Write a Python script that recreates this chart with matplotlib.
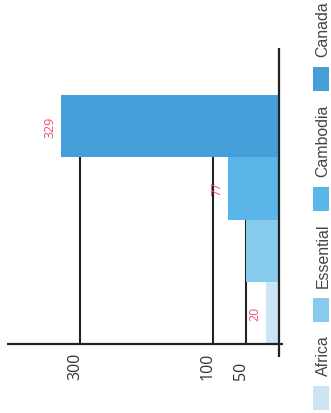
import matplotlib
matplotlib.use("Agg")
import matplotlib.pyplot as plt
import matplotlib.transforms as mtransforms
from matplotlib.patches import Rectangle

# ---- data ----
categories = ["Africa", "Essential", "Cambodia", "Canada"]
values = [20, 50, 77, 329]
value_labels = ["20", None, "77", "329"]
tick_values = [300, 100, 50]
tick_labels = ["300", "100", "50"]
colors = ["#CDE4F5", "#86CAEC", "#5CB5E8", "#469FD8"]

W, H = 331, 414
fig = plt.figure(figsize=(W / 100, H / 100), dpi=100)
ax = fig.add_axes([0, 0, 1, 1])
ax.axis("off")

# pixel mapping: x_px = 279 - 0.6633*v ; y_px(top) = 345 - 62.25*(c+0.5)
sx = 0.6633
x0 = 279.0
sy = 62.25
ax.set_xlim(x0 / sx, (x0 - W) / sx)
ax.set_ylim((345 - H) / sy - 0.5, 345 / sy - 0.5)

idx = list(range(len(categories)))
ink = "#222222"

# grid lines behind bars
ax.vlines(tick_values, -0.5, len(categories) - 0.5, color=ink, lw=1.5, zorder=1)
ax.barh(idx, values, height=1.0, color=colors, zorder=2)

# axis lines
ax.plot([(x0 - 7) / sx, (x0 - 283) / sx], [-0.5, -0.5], color=ink, lw=1.6,
        zorder=3, solid_capstyle="butt")
ax.plot([0, 0], [-0.5 - 13 / sy, 3.5 + 47 / sy], color=ink, lw=1.6, zorder=3,
        solid_capstyle="butt")

num_font = "Open Sans"
for v, lab in zip(tick_values, tick_labels):
    ax.annotate(lab, xy=(v, -0.5), xytext=(-1, -35), textcoords="offset pixels",
                rotation=90, rotation_mode="anchor", ha="left", va="baseline",
                fontsize=11.5, family=num_font, color="#333333")

for i, (v, lab) in enumerate(zip(values, value_labels)):
    if lab is None:
        continue
    ax.annotate(lab, xy=(v, i), xytext=(-4, 0), textcoords="offset pixels",
                rotation=90, ha="right", va="center",
                fontsize=9, family=num_font, color="#EE4F72")

# legend (rotated, flowing bottom-to-top)
ident = mtransforms.IdentityTransform()
renderer = fig.canvas.get_renderer()
y = 411.0
for name, col in zip(categories, colors):
    fig.add_artist(Rectangle((313, H - y), 16, 24, transform=ident,
                             facecolor=col, edgecolor="none"))
    y -= 24 + 11
    t = fig.text(327.5, H - y, name, rotation=90, rotation_mode="anchor",
                 ha="left", va="baseline", fontsize=11.4,
                 family="Liberation Sans", color="#444444", transform=ident)
    ext = t.get_window_extent(renderer)
    y -= ext.height + 12

fig.savefig("out.png", dpi=100)
